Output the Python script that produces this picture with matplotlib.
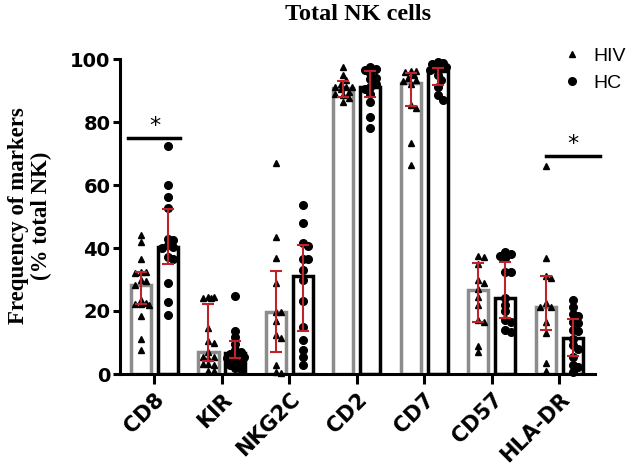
import matplotlib
matplotlib.use("Agg")
import matplotlib.pyplot as plt
from matplotlib.lines import Line2D
import numpy as np

# маркеры по оси X
markers = ["CD8", "KIR", "NKG2C", "CD2", "CD7", "CD57", "HLA-DR"]

# высоты столбцов (медианы)
hiv_bar = [28.3, 7.1, 19.8, 90.8, 92.5, 26.7, 21.4]
hc_bar = [40.4, 6.8, 31.2, 91.0, 96.2, 24.0, 11.5]

# усы (нижняя / верхняя граница)
hiv_low = [22.1, 4.2, 7.0, 88.0, 85.1, 16.6, 14.0]
hiv_high = [32.5, 22.1, 32.8, 93.1, 95.7, 35.1, 31.1]
hc_low = [34.9, 5.0, 13.7, 87.8, 91.6, 17.7, 5.8]
hc_high = [52.3, 10.6, 41.0, 96.2, 97.1, 35.7, 17.4]

# отдельные точки HIV
hiv_cd8 = [44.0, 41.9, 36.4, 32.5, 32.5, 32.0, 29.8, 29.5, 28.3, 23.5, 22.5, 22.2, 22.2, 22.0, 18.5, 11.0, 7.6]
hiv_kir = [24.5, 24.5, 24.0, 24.0, 14.5, 10.5, 10.0, 7.0, 5.5, 5.5, 5.0, 3.2, 3.0, 3.2, 1.0, 0.8]
hiv_nkg2c = [66.9, 43.4, 36.7, 28.8, 19.8, 19.8, 16.9, 12.4, 11.4, 2.9, 0.6, 0.4]
hiv_cd2 = [97.5, 95.0, 93.3, 92.0, 91.1, 91.1, 91.0, 90.5, 89.5, 89.0, 88.5, 87.5, 86.5]
hiv_cd7 = [96.3, 96.3, 96.0, 95.0, 94.0, 93.3, 93.0, 92.0, 85.4, 84.5, 73.4, 66.3]
hiv_cd57 = [37.6, 37.2, 35.0, 30.0, 29.0, 27.0, 24.5, 21.9, 17.2, 16.6, 8.9, 7.1]
hiv_hladr = [66.1, 36.7, 31.0, 30.5, 22.4, 21.2, 21.2, 16.6, 12.9, 3.4, 1.1]

# отдельные точки HC
hc_cd8 = [72.4, 60.0, 56.1, 52.6, 42.8, 42.5, 40.8, 40.4, 40.0, 37.0, 36.5, 29.0, 22.8, 18.7]
hc_kir = [24.8, 13.8, 11.8, 9.5, 7.5, 7.0, 6.5, 6.0, 5.5, 5.0, 4.0, 3.5, 3.0, 2.0, 1.5]
hc_nkg2c = [53.7, 48.0, 41.5, 40.5, 36.4, 36.4, 33.0, 29.8, 23.3, 15.0, 10.8, 7.6, 5.5, 2.9]
hc_cd2 = [97.5, 96.8, 96.5, 95.5, 94.0, 93.5, 92.0, 91.0, 90.5, 89.0, 86.5, 81.5, 78.0]
hc_cd7 = [99.0, 98.8, 98.5, 97.8, 97.5, 97.0, 96.5, 95.0, 93.3, 91.0, 88.5, 87.0]
hc_cd57 = [38.8, 38.0, 37.5, 36.8, 32.5, 32.3, 24.0, 22.0, 20.0, 17.0, 16.5, 14.0, 13.3]
hc_hladr = [23.5, 21.4, 19.0, 18.5, 16.5, 16.2, 14.0, 13.7, 11.0, 9.2, 7.8, 5.5, 3.0, 2.2, 0.7]

hiv_points = [hiv_cd8, hiv_kir, hiv_nkg2c, hiv_cd2, hiv_cd7, hiv_cd57, hiv_hladr]
hc_points = [hc_cd8, hc_kir, hc_nkg2c, hc_cd2, hc_cd7, hc_cd57, hc_hladr]

# значимые различия: (индекс маркера, уровень линии)
sig_idx = [0, 6]
sig_level = [75.0, 69.3]

GREY = "#8c8c8c"
RED = "#c0222a"
PPU_X = 67.5   # пикселей на единицу по X
PPU_Y = 3.15   # пикселей на единицу по Y


def swarm(vals, diam=5.5, max_px=10.5):
    """Раскладывает точки почти без наложения (как beeswarm), возвращает смещения по X"""
    placed = []
    cands = [0.0]
    k = 1
    while k * diam * 0.5 <= max_px:
        cands += [k * diam * 0.5, -k * diam * 0.5]
        k += 1
    for v in vals:
        y = v * PPU_Y
        best = None
        best_d = -1
        for x in cands:
            d = min([((x - px) ** 2 + (y - py) ** 2) ** 0.5 for px, py in placed] + [99])
            if d >= diam:
                best = x
                break
            if d > best_d:
                best_d = d
                best = x
        placed.append((best, y))
    return [p[0] / PPU_X for p in placed]


fig = plt.figure(figsize=(6.29, 4.73), dpi=100)
ax = fig.add_axes([120 / 629, 1 - 374 / 473, 475 / 629, 315 / 473])

x = np.arange(len(markers))
off = 0.2
w = 0.30

ax.bar(x - off, hiv_bar, width=w, color="white", edgecolor=GREY, linewidth=2.5, zorder=2)
ax.bar(x + off, hc_bar, width=w, color="white", edgecolor="black", linewidth=2.5, zorder=2)

for i in range(len(markers)):
    dx = swarm(hiv_points[i])
    ax.plot(x[i] - off + np.array(dx), hiv_points[i], "^", color="black", markersize=5,
            linestyle="none", zorder=3, clip_on=False)
    dx = swarm(hc_points[i])
    ax.plot(x[i] + off + np.array(dx), hc_points[i], "o", color="black", markersize=5.5,
            linestyle="none", zorder=3, clip_on=False)

hiv_mid = (np.array(hiv_low) + np.array(hiv_high)) / 2
hc_mid = (np.array(hc_low) + np.array(hc_high)) / 2
ax.errorbar(x - off, hiv_mid, yerr=(np.array(hiv_high) - np.array(hiv_low)) / 2, fmt="none",
            ecolor=RED, elinewidth=1.5, capsize=4.5, capthick=1.5, zorder=4)
ax.errorbar(x + off, hc_mid, yerr=(np.array(hc_high) - np.array(hc_low)) / 2, fmt="none",
            ecolor=RED, elinewidth=1.5, capsize=4.5, capthick=1.5, zorder=4)

# линии значимости
ax.plot([x[sig_idx[0]] - 0.39, x[sig_idx[0]] + 0.38], [sig_level[0]] * 2, color="black",
        linewidth=2.5, clip_on=False, zorder=5)
ax.text(x[sig_idx[0]], sig_level[0] + 0.5, "*", ha="center", va="bottom", fontsize=16,
        fontfamily="DejaVu Sans")
ax.plot([x[sig_idx[1]] - 0.19, x[sig_idx[1]] + 0.60], [sig_level[1]] * 2, color="black",
        linewidth=2.5, clip_on=False, zorder=5)
ax.text(x[sig_idx[1]] + 0.2, sig_level[1] + 0.5, "*", ha="center", va="bottom", fontsize=16,
        fontfamily="DejaVu Sans")

ax.set_xlim(-0.51, 6.53)
ax.set_ylim(0, 100)
ax.set_yticks([0, 20, 40, 60, 80, 100])
ax.set_xticks(x)
ax.set_xticklabels(markers, rotation=45, ha="right", rotation_mode="anchor",
                   fontsize=15, fontweight="bold", fontfamily="DejaVu Sans")
for lab in ax.get_yticklabels():
    lab.set_fontsize(14)
    lab.set_fontweight("bold")
    lab.set_fontfamily("DejaVu Sans")

for s in ["top", "right"]:
    ax.spines[s].set_visible(False)
for s in ["left", "bottom"]:
    ax.spines[s].set_linewidth(2.2)
ax.tick_params(axis="y", width=2.2, length=5, pad=2)
ax.tick_params(axis="x", width=2.2, length=7, pad=4)

fig.text(358 / 629, 1 - 20 / 473, "Total NK cells", ha="center", va="baseline",
         fontsize=17.5, fontweight="bold", fontfamily="Liberation Serif")
fig.text(30 / 629, 1 - 216 / 473, "Frequency of markers\n(% total NK)", rotation=90,
         ha="center", va="center", multialignment="center",
         fontsize=16.5, fontweight="bold", fontfamily="Liberation Serif", linespacing=1.1)

handles = [Line2D([], [], marker="^", color="black", linestyle="none", markersize=5),
           Line2D([], [], marker="o", color="black", linestyle="none", markersize=5.5)]
leg = fig.legend(handles, ["HIV", "HC"], loc="upper left", bbox_to_anchor=(562 / 629, 1 - 47 / 473),
                 frameon=False, handlelength=1.0, handletextpad=0.6, labelspacing=0.5,
                 borderpad=0, borderaxespad=0,
                 prop={"family": "Liberation Sans", "size": 14})

fig.savefig("out.png", dpi=100)
